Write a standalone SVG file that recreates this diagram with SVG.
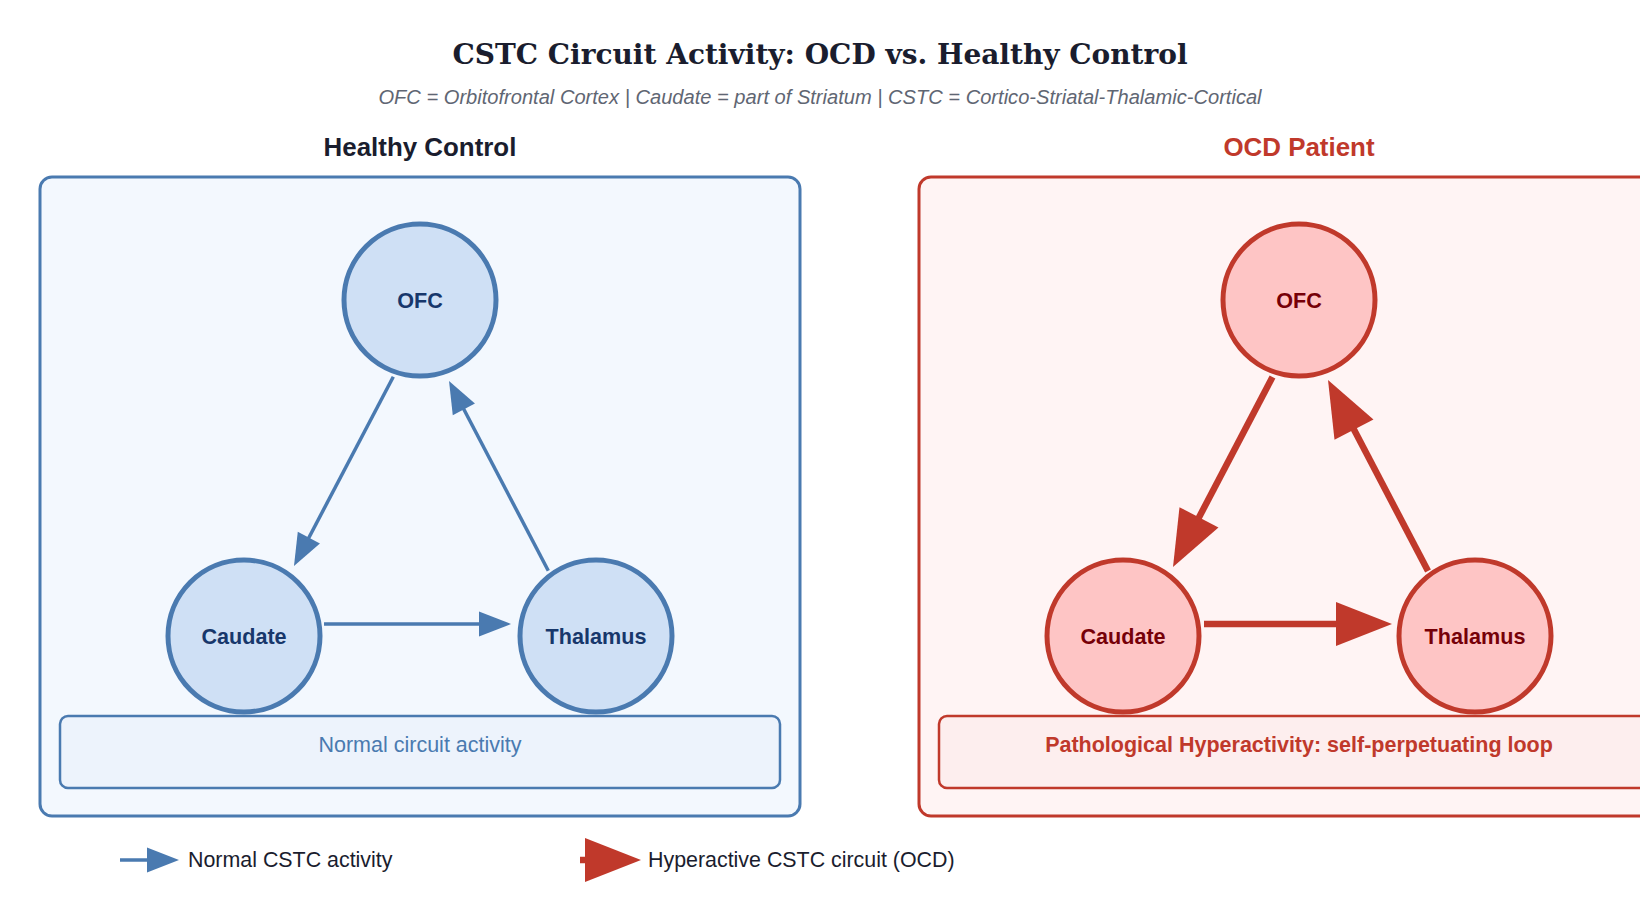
<svg xmlns="http://www.w3.org/2000/svg" width="1640" height="920" viewBox="0 0 1640 920">
<style>
.title{font-family:"DejaVu Serif",serif;font-weight:bold;font-size:28px;fill:#1a1d2e;text-anchor:middle}
.sub{font-family:"Liberation Sans",Arial,sans-serif;font-style:italic;font-size:20.1px;fill:#5f6673;text-anchor:middle}
.ptitle{font-family:"Liberation Sans",Arial,sans-serif;font-weight:bold;font-size:25.9px;text-anchor:middle}
.nodeB circle{fill:#cfe0f5;stroke:#4a7ab0;stroke-width:5}
.nodeR circle{fill:#fec5c5;stroke:#c0392b;stroke-width:5}
.ntxt{font-family:"Liberation Sans",Arial,sans-serif;font-weight:bold;font-size:21.6px;text-anchor:middle}
.nodeB .ntxt{fill:#17376b}
.nodeR .ntxt{fill:#760008}
.eB{stroke:#4a7ab0;stroke-width:3.5;fill:none;marker-end:url(#ab)}
.eR{stroke:#c0392b;stroke-width:6.5;fill:none;marker-end:url(#ar)}
.leg{font-family:"Liberation Sans",Arial,sans-serif;font-size:21.4px;fill:#1a1d2e}
.box{font-family:"Liberation Sans",Arial,sans-serif;font-size:21.5px;text-anchor:middle}
</style>
<defs>
<marker id="ab" markerUnits="userSpaceOnUse" markerWidth="32" markerHeight="25" refX="4" refY="12.5" orient="auto" overflow="visible"><path d="M0,0 L32,12.5 L0,25 Z" fill="#4a7ab0"/></marker>
<marker id="ar" markerUnits="userSpaceOnUse" markerWidth="56" markerHeight="44" refX="6" refY="22" orient="auto" overflow="visible"><path d="M0,0 L56,22 L0,44 Z" fill="#c0392b"/></marker>
</defs>
<rect width="1640" height="920" fill="#ffffff"/>
<text class="title" x="820" y="64">CSTC Circuit Activity: OCD vs. Healthy Control</text>
<text class="sub" x="820" y="104">OFC = Orbitofrontal Cortex | Caudate = part of Striatum | CSTC = Cortico-Striatal-Thalamic-Cortical</text>

<g id="panel-healthy">
<text class="ptitle" x="420" y="156" fill="#1a1d2e">Healthy Control</text>
<rect x="40" y="177" width="760" height="639" rx="12" fill="#f3f8fe" stroke="#4a7ab0" stroke-width="3"/>
<rect x="60" y="716" width="720" height="72" rx="8" fill="#edf3fc" stroke="#4a7ab0" stroke-width="2.5"/>
<text class="box" x="420" y="752" fill="#4a7ab0">Normal circuit activity</text>
</g>
<g id="panel-ocd">
<text class="ptitle" x="1299" y="156" fill="#c0392b">OCD Patient</text>
<rect x="919" y="177" width="760" height="639" rx="12" fill="#fff4f4" stroke="#c0392b" stroke-width="3"/>
<rect x="939" y="716" width="760" height="72" rx="8" fill="#fdeeee" stroke="#c0392b" stroke-width="2.5"/>
<text class="box" x="1299" y="752" font-weight="bold" fill="#c0392b">Pathological Hyperactivity: self-perpetuating loop</text>
</g>

<g id="connectors">
<path class="eB" d="M393.3,376.7 L307,541.2"/>
<path class="eB" d="M548.3,570.7 L462,405.8"/>
<path class="eB" d="M324,624 L483,624"/>
<path class="eR" d="M1272.5,377 L1196.2,522.7"/>
<path class="eR" d="M1428,571 L1351.2,424.3"/>
<path class="eR" d="M1204,624 L1342,624"/>
</g>

<g id="h-ofc" class="nodeB"><circle cx="420" cy="300" r="76"/><text class="ntxt" x="420" y="308">OFC</text></g>
<g id="h-caudate" class="nodeB"><circle cx="244" cy="636" r="76"/><text class="ntxt" x="244" y="643.5">Caudate</text></g>
<g id="h-thalamus" class="nodeB"><circle cx="596" cy="636" r="76"/><text class="ntxt" x="596" y="643.5">Thalamus</text></g>
<g id="o-ofc" class="nodeR"><circle cx="1299" cy="300" r="76"/><text class="ntxt" x="1299" y="308">OFC</text></g>
<g id="o-caudate" class="nodeR"><circle cx="1123" cy="636" r="76"/><text class="ntxt" x="1123" y="643.5">Caudate</text></g>
<g id="o-thalamus" class="nodeR"><circle cx="1475" cy="636" r="76"/><text class="ntxt" x="1475" y="643.5">Thalamus</text></g>

<g id="legend">
<path class="eB" d="M120,860 L151,860"/>
<text class="leg" x="188" y="867">Normal CSTC activity</text>
<path class="eR" d="M580,860 L591,860"/>
<text class="leg" x="648" y="867">Hyperactive CSTC circuit (OCD)</text>
</g>
</svg>
